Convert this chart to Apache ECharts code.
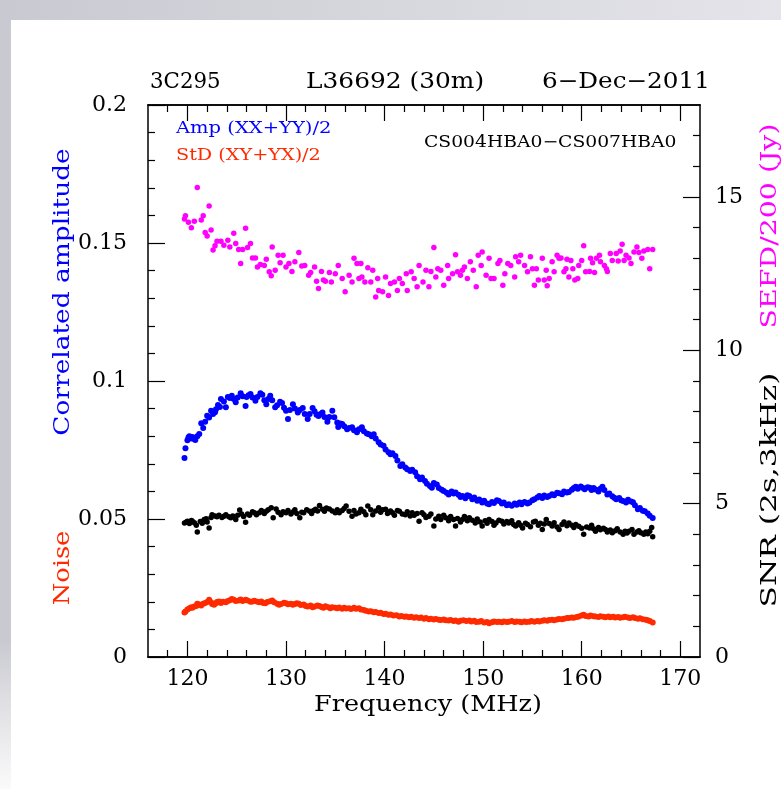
<!DOCTYPE html>
<html>
<head>
<meta charset="utf-8">
<script src="https://cdn.jsdelivr.net/npm/echarts@6/dist/echarts.min.js"></script>
<style>
  html, body { margin: 0; padding: 0; background: #fff; }
  #chart { width: 781px; height: 789px; }
</style>
</head>
<body>
<div id="chart"></div>
<script>
// frequency (MHz) / value pairs
// Amp (XX+YY)/2, left axis
const ampData = [[119.7,0.0721],[119.8,0.0756],[120.0,0.0785],[120.1,0.0795],[120.2,0.0800],[120.4,0.0792],[120.5,0.0797],[120.7,0.0790],[120.8,0.0786],[121.0,0.0800],[121.2,0.0808],[121.4,0.0847],[121.6,0.0830],[121.8,0.0852],[122.0,0.0874],[122.2,0.0868],[122.4,0.0892],[122.6,0.0880],[122.8,0.0887],[122.9,0.0898],[123.1,0.0913],[123.3,0.0906],[123.4,0.0935],[123.7,0.0926],[123.9,0.0905],[124.1,0.0942],[124.3,0.0938],[124.5,0.0947],[124.7,0.0935],[124.9,0.0923],[125.1,0.0940],[125.4,0.0956],[125.6,0.0945],[125.9,0.0909],[126.0,0.0942],[126.2,0.0948],[126.4,0.0953],[126.6,0.0940],[126.9,0.0928],[127.1,0.0942],[127.4,0.0956],[127.6,0.0950],[127.8,0.0930],[128.0,0.0916],[128.2,0.0935],[128.4,0.0947],[128.6,0.0930],[128.9,0.0905],[129.1,0.0912],[129.4,0.0925],[129.6,0.0920],[129.8,0.0903],[130.0,0.0892],[130.2,0.0862],[130.4,0.0895],[130.7,0.0916],[130.9,0.0900],[131.2,0.0886],[131.4,0.0895],[131.7,0.0902],[131.9,0.0880],[132.2,0.0862],[132.4,0.0880],[132.7,0.0902],[132.9,0.0890],[133.1,0.0878],[133.3,0.0873],[133.5,0.0880],[133.7,0.0886],[133.9,0.0870],[134.2,0.0852],[134.4,0.0870],[134.7,0.0892],[134.9,0.0869],[135.2,0.0850],[135.3,0.0833],[135.5,0.0846],[135.7,0.0844],[135.9,0.0836],[136.2,0.0825],[136.4,0.0830],[136.7,0.0832],[136.9,0.0822],[137.2,0.0814],[137.4,0.0825],[137.7,0.0832],[137.9,0.0818],[138.2,0.0810],[138.4,0.0807],[138.7,0.0800],[138.9,0.0807],[139.1,0.0792],[139.4,0.0778],[139.6,0.0770],[139.9,0.0765],[140.1,0.0752],[140.4,0.0742],[140.6,0.0735],[140.8,0.0738],[141.1,0.0728],[141.3,0.0712],[141.6,0.0692],[141.8,0.0698],[142.1,0.0687],[142.3,0.0680],[142.6,0.0674],[142.8,0.0678],[143.1,0.0669],[143.3,0.0655],[143.6,0.0644],[143.8,0.0650],[144.1,0.0638],[144.3,0.0628],[144.6,0.0620],[144.8,0.0613],[145.0,0.0630],[145.3,0.0625],[145.5,0.0612],[145.8,0.0606],[146.0,0.0601],[146.3,0.0595],[146.5,0.0589],[146.8,0.0600],[147.0,0.0592],[147.2,0.0596],[147.5,0.0588],[147.7,0.0580],[147.9,0.0583],[148.2,0.0575],[148.4,0.0586],[148.6,0.0583],[148.9,0.0572],[149.1,0.0578],[149.4,0.0566],[149.6,0.0571],[149.9,0.0560],[150.1,0.0566],[150.4,0.0556],[150.6,0.0553],[150.9,0.0562],[151.1,0.0558],[151.4,0.0568],[151.6,0.0565],[151.9,0.0556],[152.1,0.0560],[152.4,0.0550],[152.6,0.0553],[152.9,0.0548],[153.2,0.0556],[153.4,0.0552],[153.7,0.0560],[153.9,0.0553],[154.2,0.0562],[154.5,0.0556],[154.7,0.0560],[155.0,0.0568],[155.2,0.0572],[155.5,0.0578],[155.7,0.0583],[156.0,0.0576],[156.2,0.0585],[156.5,0.0580],[156.7,0.0583],[157.0,0.0590],[157.2,0.0586],[157.5,0.0595],[157.7,0.0593],[158.0,0.0590],[158.2,0.0600],[158.5,0.0596],[158.7,0.0598],[159.0,0.0606],[159.2,0.0612],[159.4,0.0617],[159.6,0.0610],[159.9,0.0618],[160.1,0.0613],[160.3,0.0608],[160.6,0.0615],[160.8,0.0613],[161.0,0.0605],[161.2,0.0612],[161.4,0.0607],[161.7,0.0600],[161.9,0.0610],[162.1,0.0617],[162.3,0.0605],[162.6,0.0589],[162.8,0.0592],[163.1,0.0582],[163.3,0.0577],[163.5,0.0572],[163.8,0.0576],[164.0,0.0568],[164.2,0.0565],[164.5,0.0560],[164.7,0.0570],[165.0,0.0563],[165.2,0.0561],[165.4,0.0550],[165.7,0.0535],[165.9,0.0540],[166.2,0.0530],[166.4,0.0528],[166.7,0.0520],[166.9,0.0512],[167.2,0.0504]];

// StD (XY+YX)/2 noise, left axis
const noiseData = [[119.7,0.0161],[119.8,0.0165],[120.0,0.0172],[120.2,0.0177],[120.4,0.0180],[120.5,0.0178],[120.7,0.0183],[120.9,0.0185],[121.0,0.0193],[121.2,0.0190],[121.4,0.0187],[121.6,0.0193],[121.8,0.0196],[122.0,0.0199],[122.2,0.0207],[122.4,0.0198],[122.5,0.0192],[122.7,0.0189],[122.9,0.0195],[123.0,0.0199],[123.2,0.0201],[123.4,0.0196],[123.6,0.0200],[123.9,0.0198],[124.1,0.0203],[124.3,0.0206],[124.5,0.0210],[124.7,0.0207],[124.9,0.0203],[125.2,0.0205],[125.4,0.0208],[125.6,0.0203],[125.9,0.0207],[126.1,0.0205],[126.4,0.0200],[126.6,0.0201],[126.8,0.0204],[127.1,0.0200],[127.3,0.0198],[127.5,0.0201],[127.7,0.0196],[127.9,0.0195],[128.1,0.0199],[128.4,0.0202],[128.6,0.0205],[128.8,0.0198],[129.1,0.0193],[129.3,0.0189],[129.5,0.0192],[129.8,0.0197],[130.0,0.0195],[130.2,0.0191],[130.5,0.0193],[130.7,0.0189],[130.9,0.0192],[131.1,0.0195],[131.3,0.0193],[131.5,0.0188],[131.8,0.0190],[132.0,0.0185],[132.2,0.0183],[132.5,0.0187],[132.7,0.0180],[132.9,0.0183],[133.2,0.0187],[133.4,0.0185],[133.6,0.0181],[133.8,0.0178],[134.0,0.0184],[134.3,0.0180],[134.5,0.0177],[134.7,0.0180],[135.0,0.0178],[135.2,0.0177],[135.4,0.0179],[135.7,0.0175],[135.9,0.0178],[136.1,0.0176],[136.4,0.0177],[136.6,0.0174],[136.9,0.0178],[137.1,0.0175],[137.4,0.0177],[137.6,0.0172],[137.9,0.0170],[138.1,0.0168],[138.4,0.0165],[138.6,0.0166],[138.9,0.0162],[139.1,0.0163],[139.4,0.0159],[139.6,0.0160],[139.9,0.0156],[140.1,0.0157],[140.4,0.0153],[140.6,0.0154],[140.9,0.0150],[141.2,0.0151],[141.5,0.0147],[141.7,0.0149],[142.0,0.0146],[142.2,0.0147],[142.5,0.0144],[142.7,0.0146],[143.0,0.0142],[143.2,0.0144],[143.5,0.0141],[143.7,0.0143],[144.0,0.0139],[144.2,0.0141],[144.5,0.0137],[144.7,0.0139],[145.0,0.0136],[145.2,0.0138],[145.5,0.0135],[145.7,0.0134],[146.0,0.0136],[146.2,0.0133],[146.5,0.0132],[146.7,0.0134],[147.0,0.0130],[147.2,0.0132],[147.5,0.0128],[147.7,0.0131],[148.0,0.0133],[148.3,0.0130],[148.6,0.0132],[148.8,0.0129],[149.1,0.0131],[149.3,0.0127],[149.6,0.0128],[149.8,0.0130],[150.1,0.0125],[150.4,0.0127],[150.6,0.0122],[150.9,0.0126],[151.1,0.0129],[151.4,0.0127],[151.6,0.0128],[151.9,0.0126],[152.1,0.0129],[152.4,0.0127],[152.6,0.0128],[152.9,0.0130],[153.2,0.0127],[153.4,0.0129],[153.7,0.0128],[153.9,0.0126],[154.2,0.0129],[154.4,0.0127],[154.7,0.0128],[154.9,0.0130],[155.2,0.0128],[155.5,0.0130],[155.7,0.0129],[156.0,0.0131],[156.2,0.0133],[156.5,0.0131],[156.7,0.0134],[157.0,0.0135],[157.2,0.0133],[157.5,0.0136],[157.7,0.0138],[158.0,0.0137],[158.2,0.0139],[158.5,0.0141],[158.7,0.0141],[159.0,0.0143],[159.2,0.0142],[159.5,0.0145],[159.7,0.0147],[160.0,0.0150],[160.2,0.0153],[160.4,0.0149],[160.7,0.0147],[160.9,0.0150],[161.2,0.0148],[161.4,0.0147],[161.7,0.0145],[161.9,0.0148],[162.2,0.0146],[162.4,0.0144],[162.7,0.0147],[162.9,0.0144],[163.2,0.0146],[163.4,0.0143],[163.7,0.0145],[163.9,0.0142],[164.2,0.0144],[164.4,0.0146],[164.7,0.0143],[164.9,0.0141],[165.2,0.0144],[165.4,0.0141],[165.7,0.0139],[165.9,0.0140],[166.2,0.0137],[166.5,0.0135],[166.7,0.0133],[166.9,0.0130],[167.2,0.0125]];

// SNR (2s,3kHz), right axis
const snrData = [[119.7,4.37],[119.9,4.40],[120.0,4.43],[120.2,4.35],[120.4,4.45],[120.5,4.43],[120.7,4.38],[120.9,4.30],[121.0,4.08],[121.3,4.42],[121.5,4.36],[121.7,4.48],[121.9,4.51],[122.0,4.40],[122.2,4.21],[122.4,4.55],[122.5,4.64],[122.8,4.60],[123.0,4.57],[123.2,4.62],[123.5,4.55],[123.7,4.59],[123.9,4.64],[124.2,4.57],[124.4,4.54],[124.6,4.60],[124.9,4.48],[125.1,4.62],[125.3,4.79],[125.5,4.66],[125.7,4.58],[125.9,4.39],[126.1,4.66],[126.3,4.62],[126.6,4.74],[126.8,4.70],[127.0,4.64],[127.3,4.70],[127.5,4.78],[127.8,4.68],[128.0,4.75],[128.2,4.80],[128.5,4.87],[128.7,4.54],[129.0,4.83],[129.2,4.72],[129.5,4.64],[129.7,4.74],[130.0,4.70],[130.2,4.78],[130.5,4.66],[130.7,4.73],[130.9,4.80],[131.1,4.68],[131.4,4.54],[131.6,4.72],[131.8,4.70],[132.1,4.80],[132.4,4.75],[132.6,4.68],[132.8,4.78],[133.0,4.82],[133.2,4.76],[133.4,4.94],[133.7,4.82],[133.9,4.75],[134.1,4.86],[134.4,4.83],[134.7,4.76],[135.0,4.70],[135.2,4.80],[135.4,4.70],[135.7,4.78],[135.9,4.84],[136.1,4.92],[136.4,4.75],[136.7,4.59],[136.9,4.78],[137.1,4.66],[137.4,4.70],[137.6,4.82],[137.9,4.74],[138.1,4.64],[138.3,4.92],[138.6,4.80],[138.8,4.64],[139.1,4.76],[139.4,4.87],[139.6,4.72],[139.8,4.80],[140.1,4.82],[140.3,4.68],[140.6,4.76],[140.8,4.70],[141.0,4.62],[141.3,4.78],[141.5,4.75],[141.8,4.66],[142.1,4.64],[142.3,4.74],[142.6,4.60],[142.8,4.70],[143.0,4.62],[143.3,4.68],[143.5,4.43],[143.8,4.70],[144.0,4.64],[144.2,4.55],[144.5,4.59],[144.7,4.66],[145.0,4.27],[145.2,4.50],[145.5,4.59],[145.7,4.48],[146.0,4.62],[146.2,4.54],[146.5,4.44],[146.7,4.58],[147.0,4.48],[147.2,4.27],[147.4,4.52],[147.7,4.40],[147.9,4.48],[148.1,4.58],[148.4,4.44],[148.6,4.54],[148.9,4.46],[149.2,4.37],[149.4,4.50],[149.7,4.40],[149.9,4.27],[150.2,4.44],[150.4,4.36],[150.6,4.48],[150.9,4.42],[151.1,4.30],[151.3,4.37],[151.6,4.46],[151.9,4.43],[152.1,4.34],[152.4,4.42],[152.6,4.37],[152.9,4.44],[153.1,4.32],[153.3,4.27],[153.6,4.38],[153.8,4.30],[154.0,4.21],[154.3,4.36],[154.5,4.32],[154.8,4.25],[155.1,4.40],[155.3,4.43],[155.6,4.30],[155.8,4.36],[156.0,4.16],[156.2,4.34],[156.4,4.48],[156.7,4.35],[157.0,4.27],[157.2,4.38],[157.5,4.24],[157.7,4.16],[158.0,4.32],[158.2,4.40],[158.5,4.28],[158.7,4.37],[159.0,4.30],[159.2,4.22],[159.4,4.32],[159.7,4.26],[160.0,4.20],[160.2,4.00],[160.5,4.24],[160.8,4.21],[161.0,4.30],[161.2,4.18],[161.4,4.10],[161.7,4.22],[161.9,4.15],[162.2,4.20],[162.4,4.16],[162.6,4.08],[162.9,4.14],[163.1,4.05],[163.4,4.12],[163.6,4.18],[163.9,4.08],[164.2,4.00],[164.4,4.10],[164.6,4.04],[164.8,4.10],[165.1,4.16],[165.3,4.00],[165.6,4.08],[165.8,4.12],[166.0,4.05],[166.3,4.00],[166.5,4.08],[166.7,4.02],[166.9,4.10],[167.1,4.22],[167.2,3.92]];

// SEFD/200 (Jy), right axis
const sefdData = [[119.7,14.28],[119.8,14.39],[120.1,14.18],[120.4,14.00],[120.7,14.21],[121.0,15.31],[121.4,14.25],[121.6,14.39],[121.8,13.84],[122.0,13.73],[122.2,14.71],[122.4,13.92],[122.6,13.27],[122.8,13.41],[123.0,13.56],[123.4,13.56],[123.7,13.43],[124.1,13.59],[124.3,13.37],[124.7,13.82],[124.9,13.48],[125.2,13.29],[125.4,12.83],[125.6,13.29],[125.9,13.98],[126.1,13.35],[126.4,13.48],[126.6,13.01],[126.9,13.01],[127.1,12.72],[127.4,12.80],[127.8,12.77],[128.0,12.97],[128.3,12.56],[128.5,12.43],[128.6,13.37],[128.9,12.61],[129.2,13.10],[129.4,12.86],[129.7,13.10],[130.0,12.72],[130.3,12.83],[130.6,12.57],[130.9,12.89],[131.3,13.19],[131.6,12.75],[131.9,12.77],[132.3,12.45],[132.5,12.54],[132.9,12.72],[133.1,12.25],[133.3,12.02],[133.6,12.57],[133.8,12.29],[134.0,12.25],[134.4,12.54],[134.6,12.23],[135.0,12.50],[135.3,12.77],[135.7,12.34],[136.0,11.91],[136.4,12.45],[136.7,12.23],[136.9,13.00],[137.2,12.83],[137.4,12.34],[137.6,12.83],[137.7,12.39],[138.0,12.23],[138.3,12.69],[138.6,12.23],[138.8,12.61],[139.1,11.74],[139.3,12.34],[139.4,11.95],[139.8,11.91],[140.1,12.39],[140.4,11.79],[140.6,12.18],[141.0,12.23],[141.3,11.95],[141.5,12.34],[141.8,12.18],[142.2,12.50],[142.3,11.95],[142.7,12.56],[143.0,12.34],[143.3,12.07],[143.5,12.77],[143.9,12.23],[144.2,12.61],[144.5,12.07],[144.7,12.57],[145.0,13.35],[145.2,12.39],[145.4,12.66],[145.7,12.61],[146.0,12.12],[146.4,12.77],[146.5,12.34],[146.9,12.50],[147.2,13.12],[147.4,12.56],[147.7,12.45],[147.9,12.61],[148.1,12.72],[148.4,12.34],[148.7,12.89],[149.0,12.61],[149.3,12.07],[149.5,13.10],[149.8,12.77],[149.9,13.21],[150.3,12.45],[150.6,13.00],[150.8,12.34],[151.1,12.34],[151.5,12.83],[151.7,12.93],[152.0,12.12],[152.2,12.50],[152.5,12.83],[152.8,12.77],[153.2,12.39],[153.3,13.05],[153.6,12.89],[153.8,13.10],[154.2,12.77],[154.5,12.56],[154.8,13.05],[155.0,12.66],[155.2,12.12],[155.4,12.66],[155.6,12.29],[156.0,13.00],[156.2,12.29],[156.4,12.61],[156.5,12.11],[156.7,12.34],[157.0,12.89],[157.2,12.56],[157.5,13.10],[157.7,13.00],[157.9,13.01],[158.2,12.56],[158.4,12.66],[158.5,12.97],[158.7,12.39],[158.9,12.93],[159.1,12.66],[159.3,12.29],[159.6,12.34],[159.7,12.77],[160.0,12.93],[160.2,13.41],[160.4,12.56],[160.8,12.57],[160.9,13.00],[161.1,12.86],[161.3,12.54],[161.5,13.00],[161.8,13.10],[161.9,12.89],[162.3,12.77],[162.5,12.66],[162.6,12.57],[162.9,13.16],[163.1,12.93],[163.5,13.16],[163.7,12.91],[163.9,13.24],[164.1,13.46],[164.3,12.93],[164.5,13.10],[164.8,13.01],[165.0,12.83],[165.3,13.21],[165.6,13.37],[165.8,13.19],[166.1,13.00],[166.3,13.24],[166.7,13.29],[166.9,12.66],[167.2,13.29]];

const freqTicks = [120, 130, 140, 150, 160, 170];
const freqMinorTicks = [118, 122, 124, 126, 128, 132, 134, 136, 138, 142, 144, 146, 148, 152, 154, 156, 158, 162, 164, 166, 168];
const rightTicks = [0, 5, 10, 15];
const rightMinorTicks = [1, 2, 3, 4, 6, 7, 8, 9, 11, 12, 13, 14, 16, 17];

const FONT = 'DejaVu Serif';
const chart = echarts.init(document.getElementById('chart'));

function xAx(pos, ticks, len, labels) {
  return {
    type: 'value', position: pos, min: 116, max: 172,
    axisLine: { show: true, onZero: false, lineStyle: { color: '#000', width: 1.5 } },
    axisTick: { show: true, inside: true, length: len, customValues: ticks, lineStyle: { color: '#000', width: 1.2 } },
    axisLabel: labels
      ? { show: true, customValues: ticks, color: '#000', fontFamily: FONT, fontSize: 22, margin: 11 }
      : { show: false },
    splitLine: { show: false }
  };
}

// text helper: sx stretches the glyphs along the reading direction
function label(text, x, y, size, color, sx) {
  return {
    type: 'text', x: x, y: y, scaleX: sx, silent: true,
    style: { text: text, font: size + 'px "DejaVu Serif"', fill: color, align: 'left', verticalAlign: 'middle' }
  };
}
function vlabel(text, x, y, size, color, sx) {
  return {
    type: 'text', x: x, y: y, rotation: Math.PI / 2, scaleX: sx, silent: true,
    style: { text: text, font: size + 'px "DejaVu Serif"', fill: color, align: 'center', verticalAlign: 'middle' }
  };
}

chart.setOption({
  animation: false,
  backgroundColor: '#fff',
  grid: { left: 148, right: 81, top: 105, bottom: 132, containLabel: false },
  xAxis: [
    xAx('bottom', freqTicks, 16, true),
    xAx('bottom', freqMinorTicks, 7, false),
    xAx('top', freqTicks, 16, false),
    xAx('top', freqMinorTicks, 7, false)
  ],
  yAxis: [
    {
      type: 'value', position: 'left', min: 0, max: 0.2, interval: 0.05,
      axisLine: { show: true, lineStyle: { color: '#000', width: 1.5 } },
      axisTick: { show: true, inside: true, length: 17, lineStyle: { color: '#000', width: 1.2 } },
      minorTick: { show: true, splitNumber: 5, length: 7, lineStyle: { color: '#000', width: 1.2 } },
      axisLabel: { color: '#000', fontFamily: FONT, fontSize: 22, margin: 21 },
      splitLine: { show: false }
    },
    {
      type: 'value', position: 'right', min: 0, max: 18,
      axisLine: { show: true, lineStyle: { color: '#000', width: 1.5 } },
      axisTick: { show: true, inside: true, length: 17, customValues: rightTicks, lineStyle: { color: '#000', width: 1.2 } },
      axisLabel: { show: true, customValues: rightTicks, color: '#000', fontFamily: FONT, fontSize: 22, margin: 15 },
      splitLine: { show: false }
    },
    {
      type: 'value', position: 'right', min: 0, max: 18,
      axisLine: { show: false },
      axisTick: { show: true, inside: true, length: 7, customValues: rightMinorTicks, lineStyle: { color: '#000', width: 1.2 } },
      axisLabel: { show: false },
      splitLine: { show: false }
    }
  ],
  series: [
    { name: 'SEFD/200', type: 'scatter', yAxisIndex: 1, data: sefdData, symbolSize: 5.5, itemStyle: { color: '#ff00ff', opacity: 1 } },
    { name: 'SNR', type: 'scatter', yAxisIndex: 1, data: snrData, symbolSize: 5.5, itemStyle: { color: '#000', opacity: 1 } },
    { name: 'Amp (XX+YY)/2', type: 'scatter', yAxisIndex: 0, data: ampData, symbolSize: 6, itemStyle: { color: '#0000ff', opacity: 1 } },
    { name: 'StD (XY+YX)/2', type: 'scatter', yAxisIndex: 0, data: noiseData, symbolSize: 6, itemStyle: { color: '#ff2a00', opacity: 1 } }
  ],
  graphic: [
    { type: 'rect', z: -10, silent: true, shape: { x: 0, y: 0, width: 781, height: 789 },
      style: { fill: new echarts.graphic.LinearGradient(0, 0, 1, 0, [{ offset: 0, color: '#c9c9d1' }, { offset: 1, color: '#e4e4ea' }]) } },
    { type: 'rect', z: -9, silent: true, shape: { x: 11, y: 20, width: 770, height: 769 }, style: { fill: '#fff' } },
    { type: 'rect', z: -9, silent: true, shape: { x: 0, y: 640, width: 11, height: 149 },
      style: { fill: new echarts.graphic.LinearGradient(0, 0, 0, 1, [{ offset: 0, color: 'rgba(255,255,255,0)' }, { offset: 1, color: '#fafafa' }]) } },
    label('3C295', 150, 82, 22, '#000', 0.97),
    label('L36692 (30m)', 306, 82, 22, '#000', 1.13),
    label('6\u2212Dec\u22122011', 542, 82, 22, '#000', 1.12),
    label('Amp (XX+YY)/2', 176, 129, 16, '#0000ff', 1.22),
    label('StD (XY+YX)/2', 176, 156, 16, '#ff2a00', 1.2),
    label('CS004HBA0\u2212CS007HBA0', 424, 143, 16, '#000', 1.17),
    vlabel('Correlated amplitude', 63, 292, 22, '#0000ff', 1.2),
    vlabel('Noise', 63, 568, 22, '#ff2a00', 1.17),
    vlabel('SEFD/200 (Jy)', 770, 226, 22, '#ff00ff', 1.29),
    vlabel('SNR (2s,3kHz)', 770, 490, 22, '#000', 1.42),
    { type: 'text', x: 428, y: 705, scaleX: 1.16, silent: true,
      style: { text: 'Frequency (MHz)', font: '22px "DejaVu Serif"', fill: '#000', align: 'center', verticalAlign: 'middle' } }
  ]
});
</script>
</body>
</html>
